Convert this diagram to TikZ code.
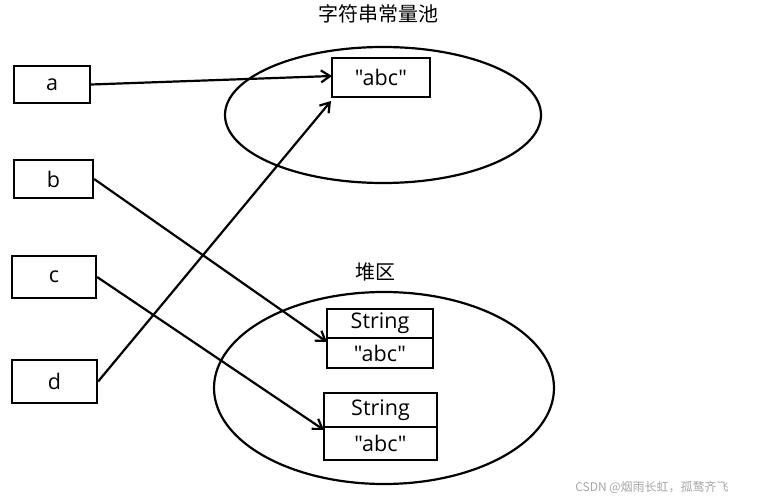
\documentclass[tikz,border=0pt]{standalone}
\usepackage{fontspec}
\newfontfamily\lat{Open Sans}
\newfontfamily\cjk{Noto Sans CJK SC}
\usetikzlibrary{arrows.meta}
\begin{document}
\begin{tikzpicture}[x=1pt,y=-1pt,
  bx/.style={draw,line width=2.2pt,inner sep=0pt,font=\lat\fontsize{21.5}{21.5}\selectfont},
  ar/.style={line width=2.2pt,-{Straight Barb[length=9pt,width=12pt]}},
  ln/.style={line width=2.2pt}]
\useasboundingbox (0,0) rectangle (760,500);
\node[font=\cjk\fontsize{20}{20}\selectfont] (t1) at (378,14) {字符串常量池};
\node[font=\cjk\fontsize{20}{20}\selectfont] (t2) at (375,272) {堆区};
\draw[ln] (383,115) ellipse (158 and 68);
\draw[ln] (384,388) ellipse (170 and 96);
\node[bx,minimum width=98pt,minimum height=39pt] (abc) at (381,77.5) {"abc"};
\node[bx,minimum width=76pt,minimum height=37pt] (a) at (52,84.5) {a};
\node[bx,minimum width=79pt,minimum height=38pt] (b) at (53.5,179) {b};
\node[bx,minimum width=84pt,minimum height=42pt] (c) at (54,277) {c};
\node[bx,minimum width=85pt,minimum height=43pt] (d) at (54.5,381.5) {d};
\node[bx,minimum width=106pt,minimum height=29pt] (s1) at (380,323.5) {String};
\node[bx,minimum width=106pt,minimum height=30pt] (v1) at (380,353) {"abc"};
\node[bx,minimum width=113pt,minimum height=34pt] (s2) at (380.5,410) {String};
\node[bx,minimum width=113pt,minimum height=33pt] (v2) at (380.5,443.5) {"abc"};
\coordinate (abcL) at (332,76);
\coordinate (abcB) at (331,101);
\coordinate (v1L) at (327,342);
\coordinate (v2L) at (324,430);
\draw[ar] (a.east) -- (abcL);
\draw[ar] (d.east) -- (abcB);
\draw[ar] (b.east) -- (v1L);
\draw[ar] (c.east) -- (v2L);
\node[text=gray!70,font=\cjk\fontsize{12}{12}\selectfont] (wm) at (652,487) {CSDN @烟雨长虹，孤鹜齐飞};
\end{tikzpicture}
\end{document}
